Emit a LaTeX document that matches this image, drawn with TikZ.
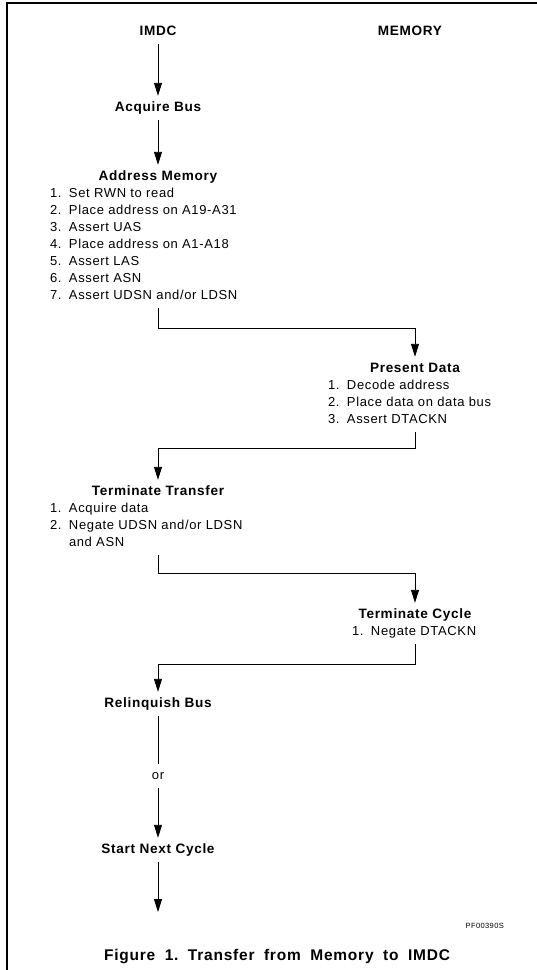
\documentclass[tikz,border=0pt]{standalone}
\usepackage{fontspec}
\setmainfont{Liberation Sans}[LetterSpace=5]
\usetikzlibrary{arrows.meta}

\newcommand{\txtfont}{\fontsize{13}{15}\selectfont}
\newcommand{\headfont}{\fontsize{13.6}{16}\selectfont\bfseries}
\newcommand{\num}[1]{\makebox[19pt][l]{#1.}}

\tikzset{
  head/.style={font=\headfont, anchor=base, inner sep=0pt,
    outer xsep=0pt, outer ysep=6pt, text height=9.2pt, text depth=2.6pt},
  item/.style={font=\txtfont, anchor=base west, inner sep=0pt,
    outer xsep=0pt, outer ysep=6pt, text height=9.2pt, text depth=2.6pt},
  flow/.style={line width=0.9pt, -{Triangle[length=13pt,width=8pt]}},
}

\begin{document}
\begin{tikzpicture}[x=1pt, y=-1pt]
  \useasboundingbox (0,0) rectangle (537,970);
  %% page rule, top and left only
  \draw[line width=1.4pt] (537,3) -- (7,3) -- (7,970);

  \node[head] (imdc) at (158,35) {IMDC};
  \node[head] (memory) at (410,35) {MEMORY};

  \node[head] (acqbus) at (158,111) {Acquire Bus};
  \node[head] (addrmem) at (158,180) {Address Memory};
  \foreach \txt [count=\i] in {Set RWN to read, Place address on A19-A31,
      Assert UAS, Place address on A1-A18, Assert LAS, Assert ASN,
      Assert UDSN and/or LDSN}
    \node[item] (addr\i) at (50,{197+17.1*(\i-1)}) {\num{\i}\txt};

  \node[head] (present) at (415,372) {Present Data};
  \foreach \txt [count=\i] in {Decode address, Place data on data bus, Assert DTACKN}
    \node[item] (pres\i) at (328,{389.5+17*(\i-1)}) {\num{\i}\txt};

  \node[head] (termxfer) at (158,495) {Terminate Transfer};
  \foreach \txt [count=\i] in {Acquire data, Negate UDSN and/or LDSN}
    \node[item] (xfer\i) at (50,{512+17*(\i-1)}) {\num{\i}\txt};
  \node[item] (xferwrap) at (69,546) {and ASN};

  \node[head] (termcyc) at (415,618) {Terminate Cycle};
  \node[item] (cyc1) at (352,635) {\num{1}Negate DTACKN};

  \node[head] (relbus) at (158,707) {Relinquish Bus};
  \node[item, anchor=base] (orword) at (158,779) {or};
  \node[head] (nextcyc) at (158,853) {Start Next Cycle};
  \coordinate (exit) at (158,912);

  \node[anchor=base east, inner sep=0pt, font=\fontsize{7.5}{9}\selectfont]
    (figcode) at (504,928) {PF00390S};
  \node[anchor=base, inner sep=0pt, font=\fontsize{15.5}{18}\selectfont\bfseries]
    (caption) at (277,960) {\spaceskip=9.5pt\xspaceskip=9.5pt Figure 1. Transfer from Memory to IMDC};

  %% flow between the two columns
  \draw[flow] (imdc) -- (acqbus);
  \draw[flow] (acqbus) -- (addrmem);
  \draw[flow] (addrmem |- addr7.south) -- ++(0,20) -| (present);
  \draw[flow] (present |- pres3.south) -- ++(0,16) -| (termxfer);
  \draw[flow] (termxfer |- xferwrap.south) -- ++(0,19) -| (termcyc);
  \draw[flow] (termcyc |- cyc1.south) -- ++(0,21) -| (relbus);
  \draw[line width=0.9pt] (relbus) -- (orword);
  \draw[flow] (orword) -- (nextcyc);
  \draw[flow] (nextcyc) -- (exit);
\end{tikzpicture}
\end{document}
